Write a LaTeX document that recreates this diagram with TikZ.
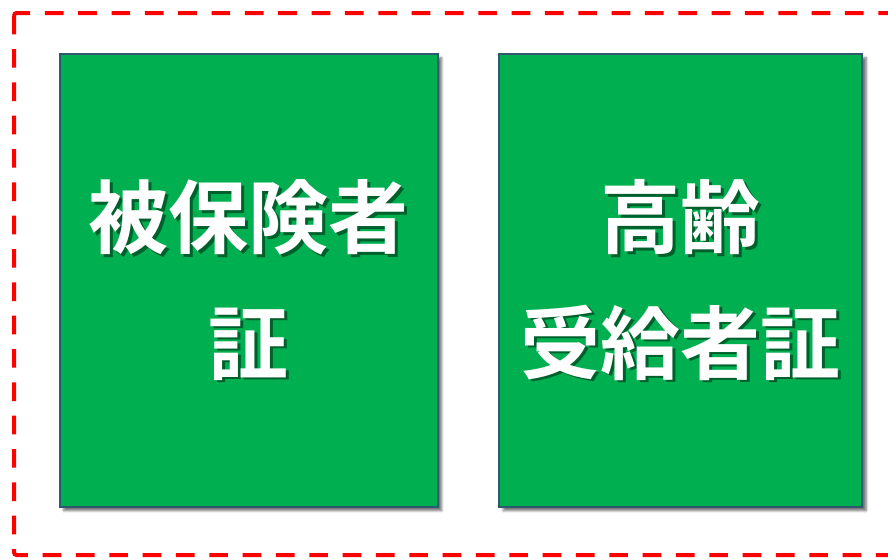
\documentclass[tikz,border=0pt]{standalone}
\usepackage{fontspec}
\newfontfamily\cjk{Noto Sans CJK JP}[BoldFont={Noto Sans CJK JP Bold}]
\usetikzlibrary{shadows.blur}
\definecolor{boxgreen}{HTML}{00AF50}
\definecolor{boxedge}{HTML}{2E5870}
\definecolor{dashred}{HTML}{FF0000}
\tikzset{
  card/.style={fill=boxgreen, draw=boxedge, line width=1.8pt,
    blur shadow={shadow xshift=3pt, shadow yshift=-3pt, shadow blur steps=6, shadow opacity=55}},
  cardtext/.style={text=white, font=\cjk\bfseries\fontsize{60}{94}\selectfont, align=center, inner sep=0pt},
  shadowtext/.style={text=black, opacity=0.45, font=\cjk\bfseries\fontsize{60}{94}\selectfont, align=center, inner sep=0pt},
  frame/.style={draw=dashred, line width=3pt, dash pattern=on 14pt off 11pt, rounded corners=2pt}
}
\begin{document}
\begin{tikzpicture}[x=0.75pt,y=-0.75pt]
\useasboundingbox (0,0) rectangle (888,558);
\draw[frame] (14,13) rectangle (900,555);
\node[card, minimum width=378*0.75pt, minimum height=453*0.75pt, anchor=north west] (left) at (58.5,52.5) {};
\node[card, minimum width=363*0.75pt, minimum height=453*0.75pt, anchor=north west] (right) at (498,52.5) {};
\node[shadowtext] at ([xshift=1.8pt,yshift=-1.8pt]left.center) {被保険者\\証};
\node[cardtext] (lt) at (left.center) {被保険者\\証};
\node[shadowtext] at ([xshift=1.8pt,yshift=-1.8pt]right.center) {高齢\\受給者証};
\node[cardtext] (rt) at (right.center) {高齢\\受給者証};
\end{tikzpicture}
\end{document}
